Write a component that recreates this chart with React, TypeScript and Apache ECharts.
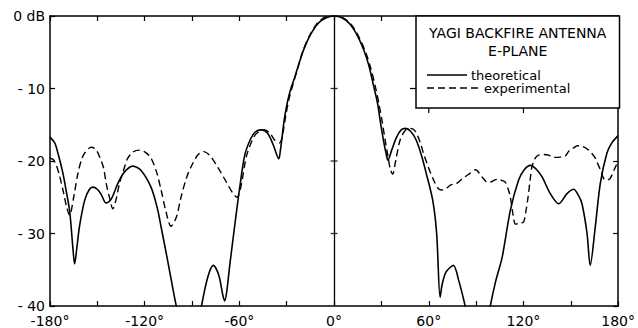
import React, { useEffect, useRef } from "react";
import * as echarts from "echarts";

// Angle (degrees) and relative level (dB)
const theoreticalDeg = [
  -180, -177, -175, -172, -170, -167.5, -165.5, -164.4, -163, -161.3, -158, -155, -152.8, -150, -147.6,
  -144.4, -141.3, -137, -132.8, -127.5, -122.3, -116, -112, -109.6, -105.4, -101.1, -99, -95, -90, -86,
  -84, -80, -76.5, -73, -70.5, -69.3, -68, -66, -63, -60, -56.6, -53, -50, -46, -42, -38.5, -35, -34,
  -33, -31.5, -29.5, -27.5, -25, -22, -19, -15, -10, -5, 0, 5, 10, 15, 19, 22, 25, 27.5, 29.5, 31.5, 33,
  34.1, 36.5, 39.4, 42.5, 45.3, 48.5, 52, 55.5, 58.4, 62.5, 65, 67.2, 68.5, 71, 75.6, 79, 82, 84, 90, 95,
  99, 102.5, 106.5, 111.7, 117, 120.5, 124.4, 128, 131.8, 137, 142.3, 147.6, 151.8, 155, 157.1, 160.3,
  162.3, 165.5, 168.7, 172.9, 176, 180,
];
const theoreticalDb = [
  -16.7, -17.5, -18.9, -21.5, -23.8, -27, -32, -34.2, -32, -29, -25.4, -23.9, -23.6, -23.9, -24.6,
  -25.8, -25.3, -23.1, -21.5, -20.7, -21.3, -23.6, -26.5, -29.1, -33.8, -38.8, -41, -46, -47, -43,
  -40, -36, -34.4, -35.8, -38.5, -39.3, -38, -34.2, -29, -24, -19.2, -17, -16, -15.7, -16.2, -17.8, -19.7, -18.5,
  -16.8, -14.2, -11.8, -10.1, -8.5, -6.4, -4.5, -2.6, -1.0, -0.25, 0, -0.25, -1.1, -2.8, -4.8, -6.8, -9.6, -12, -14.8, -17.4, -19,
  -19.9, -18.5, -16.8, -15.7, -15.5, -15.9, -17.1, -19.3, -21.7, -25.4, -30, -38.8, -37, -35.3, -34.4, -36.5, -39, -41, -47, -45,
  -40, -36.5, -33.3, -26.8, -22.6, -21.2, -20.6, -21.1, -22.2, -24.5, -25.9, -24.5, -23.9, -24.8, -25.9, -30,
  -34.4, -29.1, -23.1, -18.9, -17.5, -16.5,
];

const experimentalDeg = [
  -180, -178, -176, -174, -171.8, -169.5, -167.6, -165, -162.3, -160, -158, -153.9, -151, -148.6, -146,
  -144.4, -142, -140.2, -138, -136, -133, -130.7, -127, -123.3, -119.5, -116, -112.5, -109.6, -106.5,
  -103.3, -100, -97, -93.5, -90.6, -86.5, -82.6, -78.5, -75, -72.5, -68, -64, -61.5, -59, -55.6, -52,
  -49.2, -44, -40.5, -37.7, -34.5, -32.5, -30.5, -28.5, -26, -23, -20, -16, -11, -6, 1, 6, 11, 16, 20,
  23, 26, 28.5, 30.5, 32.5, 34.5, 35.7, 37.2, 39, 42, 45.5, 48.5, 51.5, 54.5, 56.6, 60, 63, 66, 68.2, 71,
  74, 77.7, 81.5, 86.2, 89.6, 93.8, 97, 99, 102, 104.3, 106.5, 108.5, 110.5, 111.7, 113.5, 114.9, 117.5,
  120.1, 121.5, 122.9, 124.3, 125.4, 127.5, 129.6, 133, 136, 139, 142.3, 144.5, 146.5, 149, 151.8, 154,
  156, 158.5, 161.3, 163.5, 165.5, 167.5, 169.3, 170.5, 171.8, 173.5, 175, 177.5, 180,
];
const experimentalDb = [
  -19.6, -19.8, -20.6, -22, -24, -26.3, -27.5, -25, -21.7, -19.8, -18.9, -18.1, -18.4, -19.4, -21,
  -23.1, -25.3, -26.6, -25.2, -23.1, -21, -19.6, -18.7, -18.5, -18.8, -19.6, -21.5, -24, -27,
  -29, -27.8, -25, -22.3, -20.8, -19.2, -18.7, -19.3, -20.4, -21.3, -23, -24.5, -25.0, -23.5, -19.4, -17.2,
  -16.2, -15.7, -16.2, -17.1, -17.5, -16.2, -13.6, -11.4, -9.4, -7.2, -5.0, -2.9, -1.1, -0.2, 0, -0.3, -1.2, -3.0, -5.0,
  -7.0, -9.6, -12.2, -14.6, -17.3, -19.8, -21.2, -21.8, -20, -17, -15.7, -15.5, -15.9, -17.4, -18.9, -21, -22.6, -23.8, -24, -23.8,
  -23.3, -23.1, -22.4, -21.7, -21.2, -22.2, -22.9, -22.9, -22.6, -22.5, -22.7, -22.9, -24, -25, -27.5, -28.7, -28.6,
  -28.4, -27, -25, -22.5, -20.8, -19.6, -19.2, -19.1, -19.2, -19.5, -19.5, -19.4, -19.3, -18.6, -18.2, -17.9,
  -17.9, -18.1, -18.5, -19, -19.6, -20.6, -21.5, -22.3, -22.6, -22.6, -22.4, -21.2, -20,
];

const centerTicksDb = [-10, -20, -30];
const boxTickDeg = [60, 120];
const titleLines = ["YAGI BACKFIRE ANTENNA", "E-PLANE"];
const seriesNames = ["theoretical", "experimental"];

const FONT = "DejaVu Sans";

export default function App() {
  const ref = useRef<HTMLDivElement>(null);

  useEffect(() => {
    if (!ref.current) return;
    const chart = echarts.init(ref.current, null, { renderer: "svg" });

    const axisCommon = {
      type: "value" as const,
      splitLine: { show: false },
      axisLine: { show: true, onZero: false, lineStyle: { color: "#000", width: 1.5 } },
      axisTick: { show: true, inside: true, length: 5, lineStyle: { color: "#000", width: 1.2 } },
    };

    const boxLeft = 416;
    const boxTop = 16;
    const boxBottom = 108;
    const boxRight = 638 - 18.5;
    const dash = [7, 4];

    const option: any = {
      animation: false,
      backgroundColor: "#fff",
      grid: { left: 50, right: 18.5, top: 16, bottom: 22 },
      xAxis: [
        {
          ...axisCommon,
          min: -180,
          max: 180,
          interval: 30,
          position: "bottom",
          axisLabel: {
            color: "#000",
            fontSize: 14,
            fontFamily: FONT,
            margin: 8,
            showMinLabel: true,
            showMaxLabel: true,
            formatter: (v: number) => (v % 60 === 0 ? v + "°" : ""),
          },
        },
        {
          ...axisCommon,
          min: -180,
          max: 180,
          interval: 30,
          position: "top",
          axisLabel: { show: false },
        },
      ],
      yAxis: [
        {
          ...axisCommon,
          min: -40,
          max: 0,
          interval: 10,
          position: "left",
          axisLabel: {
            color: "#000",
            fontSize: 14,
            fontFamily: FONT,
            margin: 5,
            showMinLabel: true,
            showMaxLabel: true,
            formatter: (v: number) => (v === 0 ? "0 dB" : "- " + Math.abs(v)),
          },
        },
        {
          ...axisCommon,
          min: -40,
          max: 0,
          interval: 10,
          position: "right",
          axisLabel: { show: false },
        },
      ],
      series: [
        {
          name: seriesNames[0],
          type: "line",
          data: theoreticalDeg.map((d, i) => [d, theoreticalDb[i]]),
          symbol: "none",
          smooth: 0.3,
          clip: true,
          lineStyle: { color: "#000", width: 1.6, type: "solid" },
          itemStyle: { color: "#000" },
          markLine: {
            silent: true,
            symbol: "none",
            label: { show: false },
            lineStyle: { color: "#000", width: 1.3, type: "solid" },
            data: [{ xAxis: 0 }],
          },
          z: 2,
        },
        {
          name: seriesNames[1],
          type: "line",
          data: experimentalDeg.map((d, i) => [d, experimentalDb[i]]),
          symbol: "none",
          smooth: 0.3,
          clip: true,
          lineStyle: { color: "#000", width: 1.4, type: dash },
          itemStyle: { color: "#000" },
          z: 2,
        },
        {
          name: "centerTicks",
          type: "scatter",
          data: centerTicksDb.map((v) => [0, v]),
          symbol: "rect",
          symbolSize: [7, 1.3],
          itemStyle: { color: "#000" },
          silent: true,
          z: 3,
        },
      ],
      graphic: [
        {
          type: "rect",
          z: 10,
          shape: { x: boxLeft, y: boxTop, width: boxRight - boxLeft, height: boxBottom - boxTop },
          style: { fill: "#fff", stroke: "#000", lineWidth: 1.5 },
        },
        {
          type: "text",
          z: 11,
          x: (boxLeft + boxRight) / 2,
          y: 33,
          style: {
            text: titleLines[0],
            fill: "#000",
            font: `14px "${FONT}"`,
            align: "center",
            verticalAlign: "middle",
          },
        },
        {
          type: "text",
          z: 11,
          x: (boxLeft + boxRight) / 2,
          y: 51,
          style: {
            text: titleLines[1],
            fill: "#000",
            font: `14px "${FONT}"`,
            align: "center",
            verticalAlign: "middle",
          },
        },
        // legend samples
        {
          type: "line",
          z: 11,
          shape: { x1: 427, y1: 75, x2: 467, y2: 75 },
          style: { stroke: "#000", lineWidth: 1.6 },
        },
        {
          type: "text",
          z: 11,
          x: 471,
          y: 75,
          style: {
            text: seriesNames[0],
            fill: "#000",
            font: `13px "${FONT}"`,
            align: "left",
            verticalAlign: "middle",
          },
        },
        {
          type: "line",
          z: 11,
          shape: { x1: 427, y1: 88, x2: 481, y2: 88 },
          style: { stroke: "#000", lineWidth: 1.4, lineDash: dash },
        },
        {
          type: "text",
          z: 11,
          x: 484,
          y: 88.5,
          style: {
            text: seriesNames[1],
            fill: "#000",
            font: `13px "${FONT}"`,
            align: "left",
            verticalAlign: "middle",
          },
        },
      ],
    };

    chart.setOption(option);

    // small tick marks redrawn at the box edges (aligned to the axis ticks)
    const extra: any[] = [];
    boxTickDeg.forEach((d) => {
      const px = chart.convertToPixel({ xAxisIndex: 0 }, d) as number;
      extra.push({
        type: "line",
        z: 11,
        shape: { x1: px, y1: boxBottom, x2: px, y2: boxBottom + 5 },
        style: { stroke: "#000", lineWidth: 1.2 },
      });
    });
    const py = chart.convertToPixel({ yAxisIndex: 0 }, -10) as number;
    extra.push({
      type: "line",
      z: 11,
      shape: { x1: boxLeft - 6, y1: py, x2: boxLeft, y2: py },
      style: { stroke: "#000", lineWidth: 1.2 },
    });
    chart.setOption({ graphic: [...option.graphic, ...extra] });

    return () => chart.dispose();
  }, []);

  return (
    <div
      ref={ref}
      style={{ position: "fixed", left: 0, top: 0, width: 638, height: 328, background: "#fff" }}
    />
  );
}
